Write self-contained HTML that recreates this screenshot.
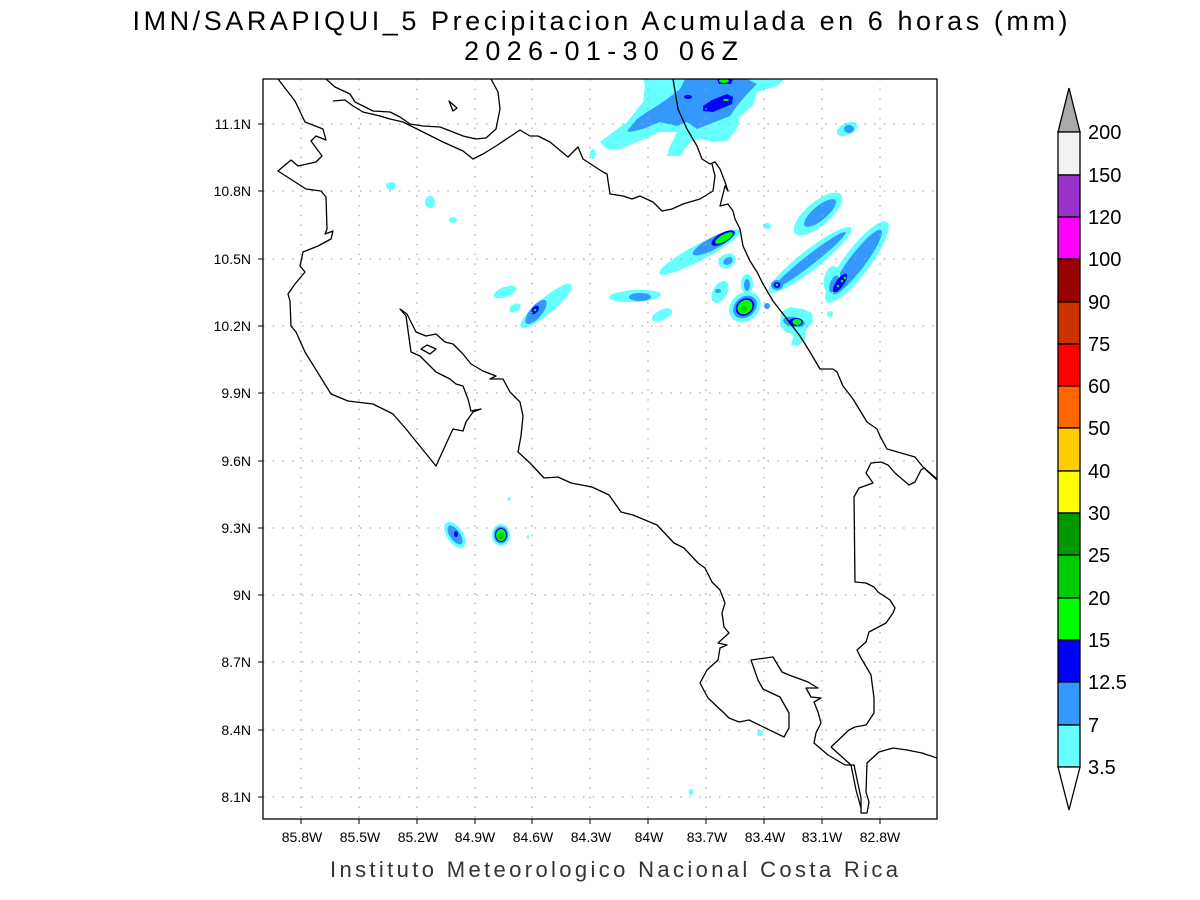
<!DOCTYPE html>
<html><head><meta charset="utf-8"><style>
html,body{margin:0;padding:0;background:#fff;}
svg{display:block;font-family:"Liberation Sans",sans-serif;}
</style></head><body>
<svg width="1200" height="900" viewBox="0 0 1200 900" xmlns="http://www.w3.org/2000/svg">
<rect width="1200" height="900" fill="#fff"/>
<text x="600" y="30" font-size="27" text-anchor="middle" textLength="935" lengthAdjust="spacing" fill="#000">IMN/SARAPIQUI_5 Precipitacion Acumulada en 6 horas (mm)</text>
<text x="601" y="60" font-size="27" text-anchor="middle" textLength="274" lengthAdjust="spacing" fill="#000">2026-01-30 06Z</text>
<defs><clipPath id="pc"><rect x="263" y="79" width="674" height="740"/></clipPath></defs>
<g clip-path="url(#pc)">
<!-- precipitation -->
<g>
<path d="M600,142 L613,132 627,122 643,102 645,86 643,79 785,79 777,86 757,92 753,106 740,116 737,129 727,141 713,142 700,139 690,142 680,156 667,156 670,146 677,132 660,132 640,141 620,149 607,149 Z" fill="#66ffff"/>
<path d="M627,131 L637,119 647,112 657,106 667,99 680,89 685,79 747,79 757,84 747,94 737,106 730,116 710,124 697,129 687,122 677,126 660,122 643,129 630,132 Z" fill="#3399ff"/>
<path d="M703,106 L712,100 727,94 733,97 732,104 713,112 703,111 Z" fill="#0000ff"/>
<path d="M717,79 L733,79 731,84 719,84 Z" fill="#0000ff"/>
<ellipse cx="724" cy="81" rx="5" ry="2" fill="#00ff00"/>
<ellipse cx="726" cy="100" rx="3" ry="1" fill="#00ff00"/>
<ellipse cx="688" cy="97" rx="4" ry="2" fill="#0000ff"/>
<ellipse cx="847" cy="129" rx="11" ry="6" transform="rotate(-25 847 129)" fill="#66ffff"/>
<ellipse cx="849" cy="129" rx="5" ry="4" fill="#3399ff"/>
<ellipse cx="593" cy="154" rx="3" ry="5" fill="#66ffff"/>
<ellipse cx="391" cy="186" rx="5" ry="4" fill="#66ffff"/>
<ellipse cx="430" cy="202" rx="5" ry="6" fill="#66ffff"/>
<ellipse cx="453" cy="220" rx="4" ry="3" fill="#66ffff"/>
<ellipse cx="505" cy="292" rx="12" ry="5" transform="rotate(-20 505 292)" fill="#66ffff"/>
<ellipse cx="515" cy="308" rx="6" ry="4" transform="rotate(-30 515 308)" fill="#66ffff"/>
<ellipse cx="546" cy="306" rx="33" ry="8" transform="rotate(-40 546 306)" fill="#66ffff"/>
<ellipse cx="536" cy="312" rx="15" ry="6" transform="rotate(-50 536 312)" fill="#3399ff"/>
<ellipse cx="535" cy="310" rx="5" ry="3" transform="rotate(-50 535 310)" fill="#0000ff"/>
<circle cx="535" cy="310" r="1.2" fill="#00ff00"/>
<!-- east cluster -->
<ellipse cx="700" cy="252" rx="46" ry="8" transform="rotate(-28 700 252)" fill="#66ffff"/>
<ellipse cx="714" cy="243" rx="24" ry="6" transform="rotate(-28 714 243)" fill="#3399ff"/>
<ellipse cx="723" cy="238" rx="13" ry="5" transform="rotate(-30 723 238)" fill="#0000ff"/>
<ellipse cx="724" cy="238" rx="10" ry="3.5" transform="rotate(-30 724 238)" fill="#00ff00"/>
<ellipse cx="727" cy="261" rx="9" ry="7" transform="rotate(-30 727 261)" fill="#66ffff"/>
<ellipse cx="728" cy="261" rx="5" ry="3.5" transform="rotate(-30 728 261)" fill="#3399ff"/>
<ellipse cx="767" cy="226" rx="4" ry="3" fill="#66ffff"/>
<ellipse cx="635" cy="296" rx="26" ry="6" transform="rotate(-3 635 296)" fill="#66ffff"/>
<ellipse cx="640" cy="297" rx="11" ry="4" fill="#3399ff"/>
<ellipse cx="662" cy="315" rx="11" ry="5" transform="rotate(-25 662 315)" fill="#66ffff"/>
<ellipse cx="720" cy="292" rx="7" ry="12" transform="rotate(30 720 292)" fill="#66ffff"/>
<ellipse cx="718" cy="291" rx="3" ry="2" fill="#3399ff"/>
<ellipse cx="747" cy="284" rx="6" ry="10" fill="#66ffff"/>
<ellipse cx="747" cy="285" rx="3" ry="6" fill="#3399ff"/>
<ellipse cx="745" cy="307" rx="17" ry="14" transform="rotate(-40 745 307)" fill="#66ffff"/>
<ellipse cx="745" cy="307" rx="13" ry="10" transform="rotate(-40 745 307)" fill="#3399ff"/>
<ellipse cx="745" cy="307" rx="10" ry="8" transform="rotate(-40 745 307)" fill="#0000ff"/>
<ellipse cx="745" cy="307" rx="8" ry="6.5" transform="rotate(-40 745 307)" fill="#00ff00"/>
<ellipse cx="744" cy="309" rx="3" ry="3" fill="#00cc00"/>
<ellipse cx="767" cy="306" rx="3" ry="3" fill="#3399ff"/>
<ellipse cx="810" cy="260" rx="52" ry="10" transform="rotate(-38 810 260)" fill="#66ffff"/>
<ellipse cx="810" cy="260" rx="45" ry="5" transform="rotate(-38 810 260)" fill="#3399ff"/>
<ellipse cx="777" cy="285" rx="6" ry="5" fill="#3399ff"/>
<ellipse cx="777" cy="285" rx="3.5" ry="3" fill="#0000ff"/>
<circle cx="777" cy="285" r="1.3" fill="#00ff00"/>
<ellipse cx="818" cy="214" rx="30" ry="12" transform="rotate(-40 818 214)" fill="#66ffff"/>
<ellipse cx="820" cy="213" rx="20" ry="7" transform="rotate(-40 820 213)" fill="#3399ff"/>
<ellipse cx="857" cy="262" rx="50" ry="13" transform="rotate(-53 857 262)" fill="#66ffff"/>
<ellipse cx="857" cy="262" rx="40" ry="8" transform="rotate(-53 857 262)" fill="#3399ff"/>
<ellipse cx="832" cy="280" rx="8" ry="14" transform="rotate(10 832 280)" fill="#66ffff"/>
<ellipse cx="834" cy="284" rx="4" ry="9" transform="rotate(20 834 284)" fill="#3399ff"/>
<ellipse cx="840" cy="283" rx="11" ry="4" transform="rotate(-55 840 283)" fill="#0000ff"/>
<circle cx="838" cy="286" r="1.3" fill="#00ff00"/><circle cx="842" cy="281" r="1.3" fill="#00ff00"/><circle cx="845" cy="278" r="1.3" fill="#00ff00"/>
<path d="M781,312 L790,307 803,309 812,313 813,322 806,330 805,340 798,346 791,345 794,335 786,332 780,326 Z" fill="#66ffff"/>
<ellipse cx="794" cy="322" rx="11" ry="5" transform="rotate(10 794 322)" fill="#3399ff"/>
<ellipse cx="796" cy="322" rx="7" ry="4" fill="#0000ff"/>
<ellipse cx="797" cy="322" rx="4.5" ry="3" fill="#00ff00"/>
<ellipse cx="830" cy="314" rx="3" ry="3" fill="#66ffff"/>
<!-- south -->
<ellipse cx="455" cy="535" rx="8" ry="15" transform="rotate(-35 455 535)" fill="#66ffff"/>
<ellipse cx="455" cy="535" rx="5" ry="11" transform="rotate(-35 455 535)" fill="#3399ff"/>
<ellipse cx="456" cy="534" rx="2" ry="3" fill="#0000ff"/>
<ellipse cx="501" cy="535" rx="9" ry="11" fill="#66ffff"/>
<ellipse cx="501" cy="535" rx="7" ry="8.5" fill="#3399ff"/>
<ellipse cx="501" cy="535" rx="6" ry="7" fill="#0000ff"/>
<ellipse cx="501" cy="535" rx="5" ry="6" fill="#00ff00"/>
<ellipse cx="501" cy="536" rx="3" ry="3.5" fill="#00cc00"/>
<circle cx="509" cy="499" r="1.8" fill="#66ffff"/>
<circle cx="528" cy="537" r="1.5" fill="#66ffff"/>
<ellipse cx="760" cy="733" rx="3" ry="3" fill="#66ffff"/>
<ellipse cx="691" cy="792" rx="2.5" ry="3" fill="#66ffff"/>
</g>
<!-- grid -->
<g stroke="#aaa" stroke-width="1.3" stroke-dasharray="1.5,8.2">
<line x1="301" y1="79" x2="301" y2="819"/><line x1="359" y1="79" x2="359" y2="819"/><line x1="417" y1="79" x2="417" y2="819"/><line x1="475" y1="79" x2="475" y2="819"/><line x1="532" y1="79" x2="532" y2="819"/><line x1="590" y1="79" x2="590" y2="819"/><line x1="648" y1="79" x2="648" y2="819"/><line x1="706" y1="79" x2="706" y2="819"/><line x1="764" y1="79" x2="764" y2="819"/><line x1="822" y1="79" x2="822" y2="819"/><line x1="880" y1="79" x2="880" y2="819"/>
<line x1="263" y1="124" x2="937" y2="124"/><line x1="263" y1="191" x2="937" y2="191"/><line x1="263" y1="259" x2="937" y2="259"/><line x1="263" y1="326" x2="937" y2="326"/><line x1="263" y1="393" x2="937" y2="393"/><line x1="263" y1="461" x2="937" y2="461"/><line x1="263" y1="528" x2="937" y2="528"/><line x1="263" y1="595" x2="937" y2="595"/><line x1="263" y1="662" x2="937" y2="662"/><line x1="263" y1="730" x2="937" y2="730"/><line x1="263" y1="797" x2="937" y2="797"/>
</g>
<!-- coastlines -->
<g fill="none" stroke="#000" stroke-width="1.3" stroke-linejoin="round">
<polyline points="278,79 295,101 305,122 323,129 326,140 316,136 311,141 322,156 316,162 298,166 291,160 278,171 306,189 321,191 326,197 327,229 325,234 333,231 331,239 318,246 303,252 300,266 305,272 295,284 288,294 290,301 291,326 296,332 305,352 331,394 348,401 373,404 393,414 406,429 436,466 446,444 453,429 463,431 466,422 473,412 481,409 471,411 468,399 463,386 456,384 450,379 436,372 430,366 420,356 411,352 406,316 400,309 407,314 416,332 426,336 436,334 445,342 453,344 463,354 471,364 483,371 496,376 490,379 503,379 510,392 520,402 523,416 521,436 518,452 530,463 544,478 558,477 571,483 592,487 609,495 621,512 633,515 657,525 674,543 684,548 698,563 705,568 712,582 720,590 725,603 722,613 724,627 729,633 718,643 727,645 720,648 718,660 707,670 700,683 708,698 724,713 729,718 739,722 749,720 784,737 789,728 789,713 780,697 763,689 758,680 751,660 773,657 782,672 789,675 808,682 818,688 806,688 811,697 821,698 814,702 818,712 821,723 816,733 814,743 828,755 845,765 854,765 861,798 861,813 867,813 869,802 866,792 867,763 879,752 893,748 907,750 922,753 937,758"/>
<polyline points="831,747 849,730 855,727 866,725 874,713 874,698 871,675 861,658 857,650 866,642 869,632 886,623 893,613 895,608 890,600 878,592 874,587 866,583 855,582 854,497 859,488 873,483 866,473 871,463 881,462 888,465 895,473 909,485 915,482 921,470 924,468 937,480"/>
<polyline points="831,747 851,765 856,790 861,808"/>
<polyline points="326,79 335,87 350,94 355,102 373,111 390,112 400,117 410,124 423,126 440,127 453,132 463,136 476,139 486,138 496,129 500,109 498,92 491,79"/>
<polyline points="333,101 345,100 353,106 363,112 380,116 390,119 403,122 423,132 443,142 463,151 473,159 483,154 496,146 520,130 530,136 538,136 550,142 556,147 568,157 578,147 583,159 603,172 607,174 610,194 623,196 632,199 640,196 653,202 662,211 672,209 683,204 700,199 713,191 715,176 712,164"/>
<polyline points="673,79 678,109 687,129 697,146 702,159 710,164 715,162 720,169 725,182 728,191 725,186 723,194 720,206 728,204 733,211 735,219 740,229 743,246 750,261 757,272 763,284 773,301 787,319 800,336 810,352 820,369 833,369 837,372 843,386 853,399 867,422 877,429 880,436 887,449 915,457 923,467 937,479"/>
<polygon points="449,101 457,108 453,111"/>
<polygon points="421,349 427,345 436,349 430,354"/>
</g>
</g>
<rect x="263" y="79" width="674" height="740" fill="none" stroke="#000" stroke-width="1.3"/>
<!-- ticks -->
<g stroke="#000" stroke-width="1">
<line x1="258" y1="124" x2="263" y2="124"/><line x1="258" y1="191" x2="263" y2="191"/><line x1="258" y1="259" x2="263" y2="259"/><line x1="258" y1="326" x2="263" y2="326"/><line x1="258" y1="393" x2="263" y2="393"/><line x1="258" y1="461" x2="263" y2="461"/><line x1="258" y1="528" x2="263" y2="528"/><line x1="258" y1="595" x2="263" y2="595"/><line x1="258" y1="662" x2="263" y2="662"/><line x1="258" y1="730" x2="263" y2="730"/><line x1="258" y1="797" x2="263" y2="797"/>
<line x1="301" y1="819" x2="301" y2="824"/><line x1="359" y1="819" x2="359" y2="824"/><line x1="417" y1="819" x2="417" y2="824"/><line x1="475" y1="819" x2="475" y2="824"/><line x1="532" y1="819" x2="532" y2="824"/><line x1="590" y1="819" x2="590" y2="824"/><line x1="648" y1="819" x2="648" y2="824"/><line x1="706" y1="819" x2="706" y2="824"/><line x1="764" y1="819" x2="764" y2="824"/><line x1="822" y1="819" x2="822" y2="824"/><line x1="880" y1="819" x2="880" y2="824"/>
</g>
<g font-size="14" fill="#000" text-anchor="end">
<text x="251" y="129">11.1N</text><text x="251" y="196">10.8N</text><text x="251" y="264">10.5N</text><text x="251" y="331">10.2N</text><text x="251" y="398">9.9N</text><text x="251" y="466">9.6N</text><text x="251" y="533">9.3N</text><text x="251" y="600">9N</text><text x="251" y="667">8.7N</text><text x="251" y="735">8.4N</text><text x="251" y="802">8.1N</text>
</g>
<g font-size="14" fill="#000" text-anchor="middle">
<text x="302" y="842">85.8W</text><text x="360" y="842">85.5W</text><text x="418" y="842">85.2W</text><text x="475" y="842">84.9W</text><text x="533" y="842">84.6W</text><text x="591" y="842">84.3W</text><text x="649" y="842">84W</text><text x="707" y="842">83.7W</text><text x="765" y="842">83.4W</text><text x="822" y="842">83.1W</text><text x="880" y="842">82.8W</text>
</g>
<text x="614" y="877" font-size="22" text-anchor="middle" textLength="568" lengthAdjust="spacing" fill="#333">Instituto Meteorologico Nacional Costa Rica</text>
<!-- colorbar -->
<g stroke="#000" stroke-width="1.3">
<polygon points="1058,132 1069,88 1080,132" fill="#aaaaaa"/>
<rect x="1058" y="132" width="22" height="43" fill="#f2f2f2"/>
<rect x="1058" y="175" width="22" height="42" fill="#9933cc"/>
<rect x="1058" y="217" width="22" height="42" fill="#ff00ff"/>
<rect x="1058" y="259" width="22" height="43" fill="#990000"/>
<rect x="1058" y="302" width="22" height="42" fill="#cc3300"/>
<rect x="1058" y="344" width="22" height="42" fill="#ff0000"/>
<rect x="1058" y="386" width="22" height="42" fill="#ff6600"/>
<rect x="1058" y="428" width="22" height="43" fill="#ffcc00"/>
<rect x="1058" y="471" width="22" height="42" fill="#ffff00"/>
<rect x="1058" y="513" width="22" height="42" fill="#009900"/>
<rect x="1058" y="555" width="22" height="43" fill="#00cc00"/>
<rect x="1058" y="598" width="22" height="42" fill="#00ff00"/>
<rect x="1058" y="640" width="22" height="42" fill="#0000ff"/>
<rect x="1058" y="682" width="22" height="43" fill="#3399ff"/>
<rect x="1058" y="725" width="22" height="42" fill="#66ffff"/>
<polygon points="1058,767 1069,810 1080,767" fill="#ffffff"/>
</g>
<g font-size="20" fill="#000">
<text x="1088" y="139">200</text><text x="1088" y="182">150</text><text x="1088" y="224">120</text><text x="1088" y="266">100</text><text x="1088" y="309">90</text><text x="1088" y="351">75</text><text x="1088" y="393">60</text><text x="1088" y="435">50</text><text x="1088" y="478">40</text><text x="1088" y="520">30</text><text x="1088" y="562">25</text><text x="1088" y="605">20</text><text x="1088" y="647">15</text><text x="1088" y="689">12.5</text><text x="1088" y="732">7</text><text x="1088" y="774">3.5</text>
</g>
</svg>
</body></html>
